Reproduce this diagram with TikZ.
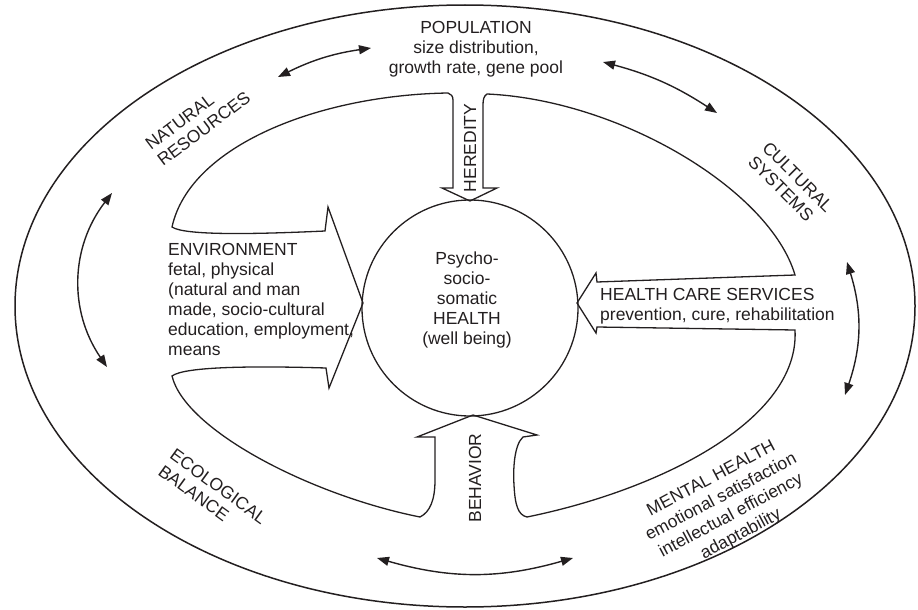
\documentclass[tikz,border=0pt]{standalone}
\usepackage{fontspec}
\setmainfont{Liberation Sans}
\usetikzlibrary{arrows.meta}
\definecolor{ink}{RGB}{35,31,32}
\begin{document}
\begin{tikzpicture}[x=1pt,y=-1pt,
  lbl/.style={font=\fontsize{17.5}{20}\selectfont, inner sep=0pt, text=ink},
  band/.style={draw=ink, line width=1.3pt, line join=miter},
  dbl/.style={draw=ink, line width=1.4pt, {Triangle[length=12pt,width=9pt]}-{Triangle[length=12pt,width=9pt]}},
]
\useasboundingbox (0,0) rectangle (918,610);
\draw[ink, line width=1.5pt] (465,306) ellipse [x radius=450, y radius=301];

\draw[band] (448,93) .. controls (320,95) and (190,145) .. (172,227)
 .. controls (185,236) and (260,234) .. (325,231)
 -- (328,207) -- (363,303) -- (329,388) -- (326,368)
 .. controls (260,366) and (185,366) .. (172,376)
 .. controls (185,430) and (310,495) .. (420,517)
 .. controls (430,512) and (435,500) .. (435,480)
 -- (435,437) -- (417,437) -- (473,415) -- (537,435) -- (523,437)
 .. controls (514,445) and (513,470) .. (514,485)
 .. controls (515,505) and (518,515) .. (527,517)
 .. controls (660,490) and (800,420) .. (795,330)
 -- (597,327) -- (596,333) -- (577,303) -- (596,273) -- (597,282) -- (795,275)
 .. controls (770,190) and (620,100) .. (487,94)
 .. controls (484,96) and (483,99) .. (483,105)
 -- (483,188) -- (497,188) -- (470,201) -- (442,188) -- (453,188) -- (453,100)
 .. controls (453,96) and (451,94) .. (448,93) -- cycle;

\node[draw=ink, line width=1.3pt, circle, minimum size=216pt, inner sep=0pt] (core) at (470,308) {};

\node[lbl, align=center, anchor=base] (pop) at (476,73.3) {POPULATION\\size distribution,\\growth rate, gene pool};
\node[lbl, align=left, anchor=base west] (env) at (168,355) {ENVIRONMENT\\fetal, physical\\(natural and man\\made, socio-cultural\\education, employment,\\means};
\node[lbl, align=left, anchor=base west] (hcs) at (600,320) {HEALTH CARE SERVICES\\prevention, cure, rehabilitation};
\node[lbl, align=center, anchor=base] (coretext) at (467,344) {Psycho-\\socio-\\somatic\\HEALTH\\(well being)};
\node[lbl, rotate=90] (her) at (470,148) {HEREDITY};
\node[lbl, rotate=90] (beh) at (475,478) {BEHAVIOR};
\node[lbl, align=left, anchor=base west, rotate=37] (nat) at (163,167) {NATURAL\\RESOURCES};
\node[lbl, align=left, anchor=base west, rotate=-45] (cul) at (747,163) {CULTURAL\\SYSTEMS};
\node[lbl, align=left, anchor=base west, rotate=-36] (eco) at (157,474) {ECOLOGICAL\\BALANCE};
\node[lbl, align=center, anchor=base, rotate=28, font=\fontsize{17.5}{21}\selectfont] (men) at (743.1,538.5) {MENTAL HEALTH\\emotional satisfaction\\intellectual efficiency\\adaptability};

\coordinate (a1s) at (278,77); \coordinate (a1e) at (371,48);
\coordinate (a2s) at (603,62); \coordinate (a2e) at (717,113);
\coordinate (a3s) at (112,193); \coordinate (a3e) at (107,367);
\coordinate (a4s) at (847,262); \coordinate (a4e) at (845,395);
\coordinate (a5s) at (377,558); \coordinate (a5e) at (573,558);
\draw[dbl] (a1s) to[bend left=9] (a1e);
\draw[dbl] (a2s) to[bend left=9] (a2e);
\draw[dbl] (a3s) to[bend right=36] (a3e);
\draw[dbl] (a4s) to[bend left=18] (a4e);
\draw[dbl] (a5s) to[bend right=16] (a5e);
\end{tikzpicture}
\end{document}
